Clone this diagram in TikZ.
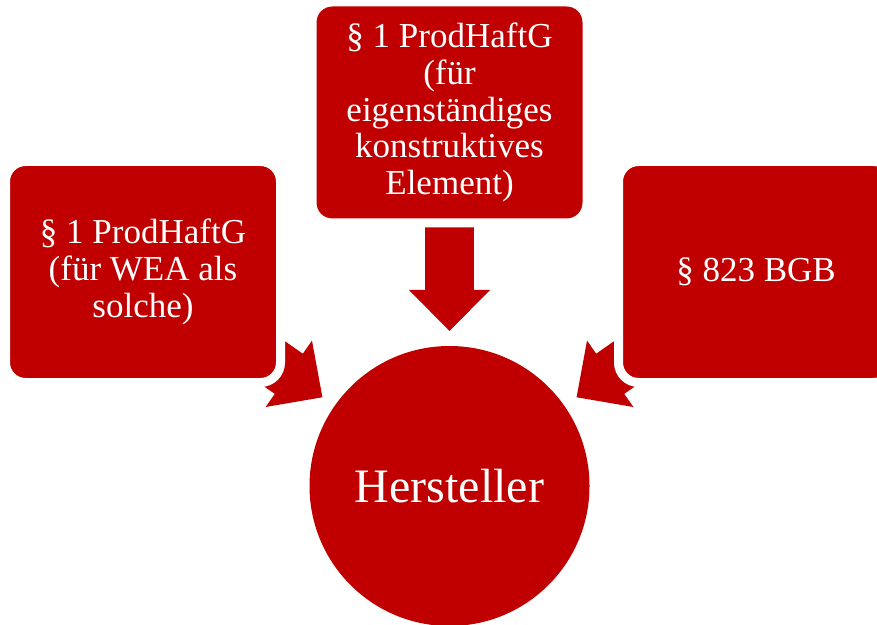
\documentclass[tikz,border=0pt]{standalone}
\usepackage{fontspec}
\setmainfont{Liberation Serif}
\usetikzlibrary{calc,backgrounds}
\definecolor{hsred}{RGB}{192,0,0}

\begin{document}
\begin{tikzpicture}[x=.5pt,y=-.5pt,
    normbox/.style={draw=white,line width=4.5pt,fill=hsred,text=white,rounded corners=10pt,
      minimum width=137.5pt,minimum height=110.5pt,inner sep=0pt,align=center,
      font=\fontsize{17.5}{18.3}\selectfont}]
  \useasboundingbox (0,0) rectangle (877,625);
  \node[normbox] (lbox) at (143,272) {§ 1 ProdHaftG\\(für WEA als\\solche)};
  \node[normbox] (tbox) at (449.5,112.5) {§ 1 ProdHaftG\\(für\\eigenständiges\\konstruktives\\Element)};
  \node[normbox] (rbox) at (756,272) {§ 823 BGB};
  \node[circle,fill=hsred,text=white,minimum size=140pt,inner sep=0pt,
    font=\fontsize{24}{26}\selectfont] (herst) at (449.5,486) {Hersteller};
  % block arrows behind the boxes
  \begin{pgfonlayer}{background}
    \foreach \bx in {lbox,tbox,rbox}{
      \coordinate (tip) at ($(herst.center)!77.5pt!(\bx.center)$);
      \coordinate (base) at ($(tip)!20.5pt!(\bx.center)$);
      \draw[hsred,line width=24.5pt] (\bx.center) -- ($(tip)!19.5pt!(\bx.center)$);
      \fill[hsred] (tip) -- ($(base)!20.25pt!90:(tip)$) -- ($(base)!20.25pt!-90:(tip)$) -- cycle;
    }
  \end{pgfonlayer}
\end{tikzpicture}
\end{document}
